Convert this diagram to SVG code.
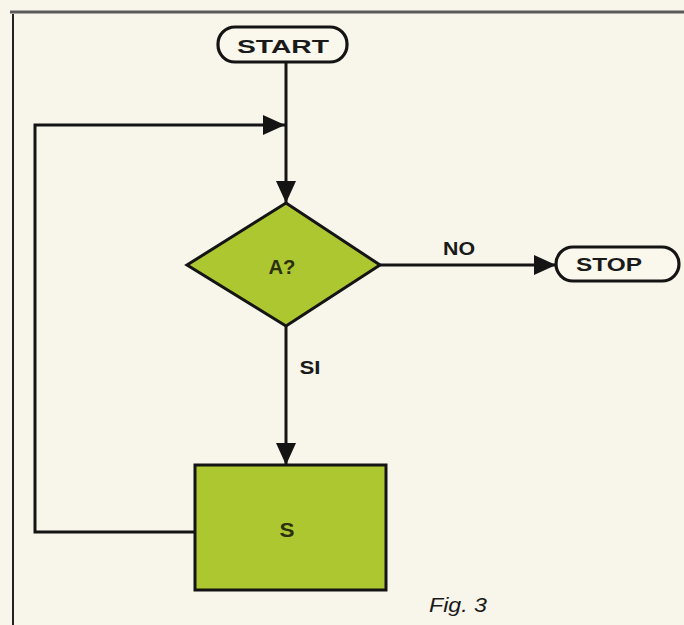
<svg xmlns="http://www.w3.org/2000/svg" width="684" height="625" viewBox="0 0 684 625">
<defs>
<style>
.ln{fill:none;stroke:#141414;stroke-width:3;stroke-linejoin:miter}
.box{fill:#adc730;stroke:#141414;stroke-width:3}
.term{fill:#faf7ec;stroke:#141414;stroke-width:3.2}
.t{font-family:"Liberation Sans",Arial,sans-serif;font-weight:bold;font-size:19px;fill:#1a1a1a;text-anchor:middle}
.tg{font-family:"Liberation Sans",Arial,sans-serif;font-weight:bold;font-size:20px;fill:#2b3010;text-anchor:middle}
</style>
<marker id="ah" markerWidth="22" markerHeight="20" refX="22" refY="10" orient="auto" markerUnits="userSpaceOnUse">
<path d="M0,0 L22,10 L0,20 Z" fill="#141414"/>
</marker>
</defs>
<rect width="684" height="625" fill="#f8f5ea"/>
<line x1="10" y1="12" x2="684" y2="12" stroke="#5a5a5a" stroke-width="3"/>
<line x1="13" y1="14" x2="13" y2="625" stroke="#222" stroke-width="2"/>
<g id="connectors">
<line class="ln" x1="286" y1="62" x2="286" y2="203" marker-end="url(#ah)"/>
<polyline class="ln" points="196,532 35,532 35,125 285,125" marker-end="url(#ah)"/>
<line class="ln" x1="380" y1="265" x2="556" y2="265" marker-end="url(#ah)"/>
<line class="ln" x1="286" y1="326" x2="286" y2="465" marker-end="url(#ah)"/>
<text class="t" x="459" y="255" textLength="32" lengthAdjust="spacingAndGlyphs">NO</text>
<text class="t" x="310" y="374" textLength="21" lengthAdjust="spacingAndGlyphs">SI</text>
</g>
<g id="start">
<rect class="term" x="218" y="27" width="129" height="35" rx="17"/>
<text class="t" x="283" y="53" textLength="92" lengthAdjust="spacingAndGlyphs">START</text>
</g>
<g id="decision">
<polygon class="box" points="286,203 380,265 286,326 187,265"/>
<text class="tg" x="282" y="274" textLength="27" lengthAdjust="spacingAndGlyphs">A?</text>
</g>
<g id="stop">
<rect class="term" x="556" y="247" width="123" height="34" rx="17"/>
<text class="t" x="609" y="271" textLength="66" lengthAdjust="spacingAndGlyphs">STOP</text>
</g>
<g id="s">
<rect class="box" x="195" y="465" width="191" height="125"/>
<text class="tg" x="287" y="537" textLength="15" lengthAdjust="spacingAndGlyphs">S</text>
</g>
<text x="458" y="612" font-family="Liberation Sans,Arial,sans-serif" font-style="italic" font-size="21" fill="#1a1a1a" text-anchor="middle" textLength="58" lengthAdjust="spacingAndGlyphs">Fig. 3</text>
</svg>
